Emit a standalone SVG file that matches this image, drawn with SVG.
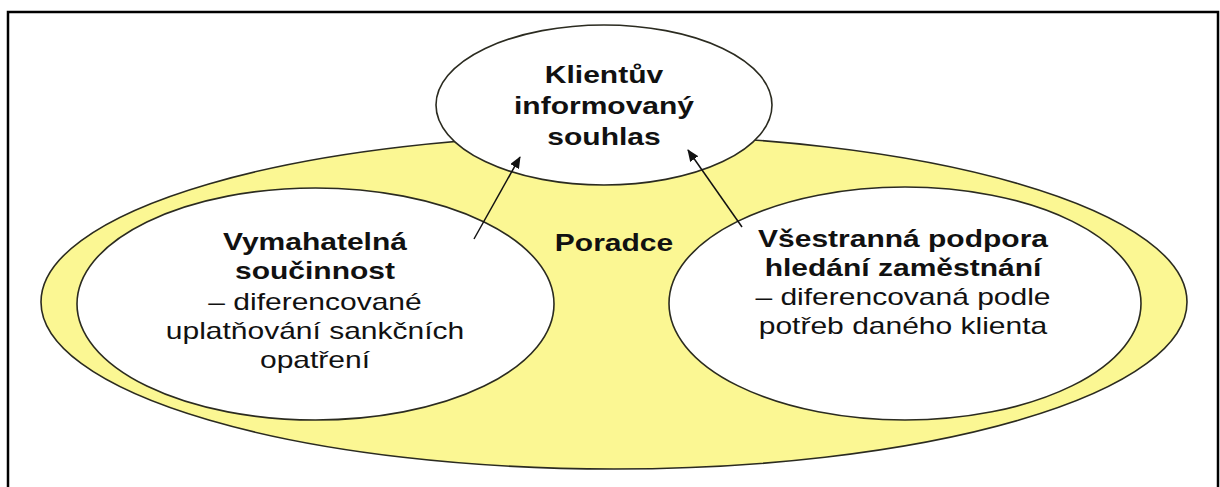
<svg xmlns="http://www.w3.org/2000/svg" width="1220" height="487" viewBox="0 0 1220 487">
  <style>
    .frame { fill: none; stroke: #000; stroke-width: 2.5; }
    .outer { fill: #FBF793; stroke: #2b2b20; stroke-width: 1.6; }
    .inner { fill: #fff; stroke: #2b2b20; stroke-width: 1.6; }
    .link { stroke: #111; stroke-width: 1.5; fill: none; marker-end: url(#head); }
    text { font-family: "Liberation Sans", Arial, sans-serif; font-size: 24px; fill: #111; text-anchor: middle; }
    .b { font-weight: bold; }
  </style>
  <defs>
    <marker id="head" viewBox="0 0 12 10" refX="11" refY="5" markerWidth="12" markerHeight="10" markerUnits="userSpaceOnUse" orient="auto">
      <path d="M0,0 L12,5 L0,10 Z" fill="#111"/>
    </marker>
  </defs>

  <rect class="frame" x="8" y="12" width="1210" height="490"/>

  <!-- counsellor: the surrounding yellow field -->
  <g id="poradce">
    <ellipse class="outer" cx="614" cy="302" rx="573" ry="167"/>
    <g transform="translate(614 0) scale(1.25 1)">
      <text class="b" x="0" y="251">Poradce</text>
    </g>
  </g>

  <!-- informed consent -->
  <g id="souhlas">
    <ellipse class="inner" cx="604" cy="105" rx="168" ry="80"/>
    <g transform="translate(604 0) scale(1.25 1)">
      <text class="b" x="0" y="83">Klientův</text>
      <text class="b" x="0" y="114">informovaný</text>
      <text class="b" x="0" y="145">souhlas</text>
    </g>
  </g>

  <!-- enforceable cooperation -->
  <g id="soucinnost">
    <ellipse class="inner" cx="315.5" cy="304" rx="238.5" ry="116"/>
    <g transform="translate(315 0) scale(1.25 1)">
      <text class="b" x="0" y="250">Vymahatelná</text>
      <text class="b" x="0" y="279">součinnost</text>
      <text x="0" y="310">– diferencované</text>
      <text x="0" y="339">uplatňování sankčních</text>
      <text x="0" y="368">opatření</text>
    </g>
  </g>

  <!-- comprehensive job-search support -->
  <g id="podpora">
    <ellipse class="inner" cx="905" cy="303.5" rx="236" ry="116.5"/>
    <g transform="translate(903 0) scale(1.25 1)">
      <text class="b" x="0" y="247">Všestranná podpora</text>
      <text class="b" x="0" y="276">hledání zaměstnání</text>
      <text x="0" y="305">– diferencovaná podle</text>
      <text x="0" y="334">potřeb daného klienta</text>
    </g>
  </g>

  <g id="connectors">
    <line class="link" x1="474" y1="239" x2="520" y2="157"/>
    <line class="link" x1="742" y1="227" x2="688" y2="150"/>
  </g>
</svg>
